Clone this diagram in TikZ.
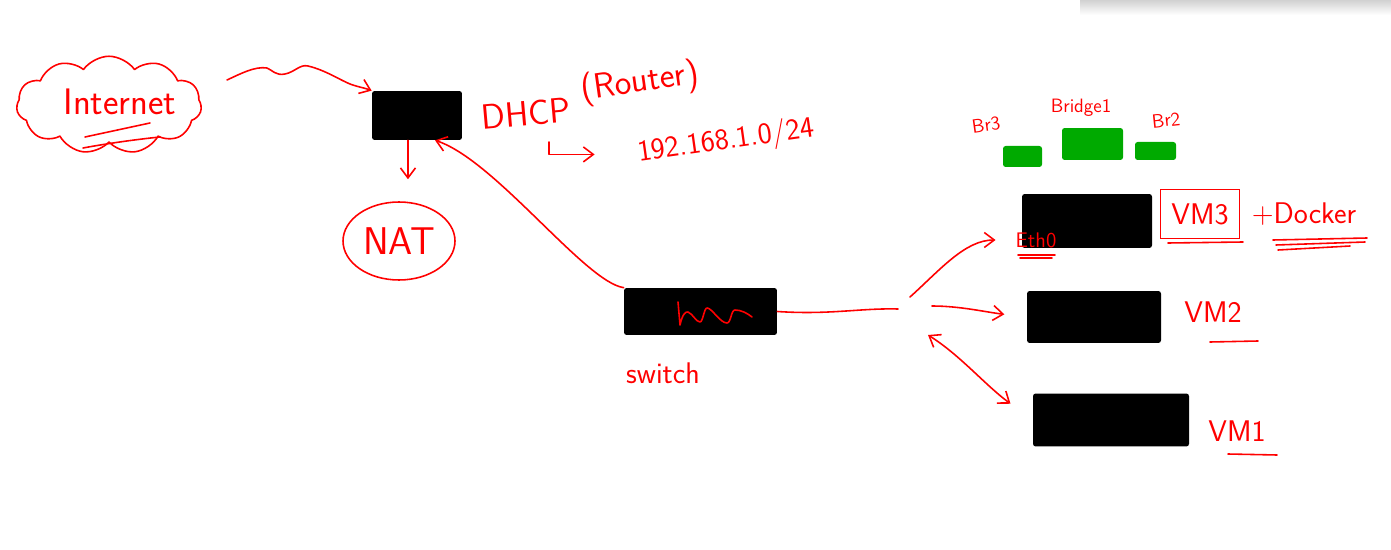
\documentclass[tikz,border=0pt]{standalone}
\usepackage{amsmath}
\usetikzlibrary{arrows.meta,positioning,shapes.geometric,shapes.symbols,calc}
\definecolor{crojo}{HTML}{FF0000}
\definecolor{cverde}{HTML}{00AA00}
\tikzset{
  caja/.style={fill=black,rounded corners=1.5pt,inner sep=0pt},
  puente/.style={fill=cverde,rounded corners=1.5pt,inner sep=0pt},
  trazo/.style={draw=crojo,line width=0.9pt,line cap=round,line join=round},
  flecha/.style={trazo,-{Straight Barb[length=2mm,width=3mm]}},
  doble/.style={trazo,{Straight Barb[length=2mm,width=3mm]}-{Straight Barb[length=2mm,width=3mm]}},
  et/.style={text=crojo,font=\sffamily\fontsize{17}{20}\selectfont,inner sep=1pt},
  etg/.style={et,font=\sffamily\fontsize{22}{24}\selectfont},
  etp/.style={et,font=\sffamily\fontsize{11}{12}\selectfont},
}

\begin{document}
\begin{tikzpicture}[x=0.02cm,y=-0.02cm]
\useasboundingbox (0,0) rectangle (1391,550);
\shade[top color=black!18,bottom color=white] (1080,0) rectangle (1391,15);

% internet y router
\node[cloud,trazo,cloud puffs=11,cloud puff arc=110,aspect=1.9,
      minimum width=3.7cm,minimum height=1.95cm] (inet) at (109,105) {};
\node[etg,font=\sffamily\fontsize{21}{24}\selectfont] (inett) at (120,102) {Internet};
\draw[trazo] (85,137) -- (150,123);
\draw[trazo] (83,148) .. controls (110,143) and (140,139) .. (160,137);

\node[caja,minimum width=1.8cm,minimum height=0.98cm] (router) at (417,115.5) {};
\coordinate (w0) at (227,80);
\draw[flecha] (w0) .. controls (240,74) and (255,66) .. (267,68)
   .. controls (272,70) and (276,76) .. (285,74)
   .. controls (295,72) and (300,64) .. (308,66)
   .. controls (325,70) and (340,80) .. (350,84)
   .. controls (358,87) and (365,88) .. (router.north west);

\node[ellipse,trazo,minimum width=2.24cm,minimum height=1.56cm] (nat) at (399,241) {};
\node[etg] (natt) at (nat.center) {NAT};
\draw[flecha,shorten >=0.44cm] (router.250) -- (router.250 |- nat.north);

\node[et,rotate=5,inner sep=0pt,font=\sffamily\fontsize{20}{22}\selectfont] (dhcp) at (526,114) {DHCP};
\node[et,rotate=8,inner sep=0pt,font=\sffamily\fontsize{20}{22}\selectfont] (dhcpr) at (640,83) {(Router)};
\node[et,rotate=8,inner sep=0pt] (ip) at (726,142) {192.168.1.0/24};
\coordinate (hk) at (549,142);
\draw[flecha,shorten >=0.86cm] (hk) |- (ip.west);

% switch
\node[caja,minimum width=3.06cm,minimum height=0.94cm] (switch) at (700.5,311.5) {};
\node[et] (switcht) at (663,373) {switch};
\draw[trazo] (678,302) -- (680,325) .. controls (682,316) and (685,311) .. (688,312)
   .. controls (693,314) and (696,322) .. (700,322)
   .. controls (703,322) and (704,308) .. (707,308)
   .. controls (712,308) and (720,323) .. (727,323)
   .. controls (731,323) and (731,310) .. (735,310)
   .. controls (741,310) and (747,313) .. (752,317);
\draw[flecha] (switch.north west) .. controls (585,282) and (495,160) .. (router.-54);

% puentes
\node[puente,minimum width=0.78cm,minimum height=0.42cm] (br3) at (1022.5,156.5) {};
\node[puente,minimum width=1.22cm,minimum height=0.64cm] (bridge1) at (1092.5,144) {};
\node[puente,minimum width=0.82cm,minimum height=0.36cm] (br2) at (1155.5,151) {};
\node[etp,rotate=8] (br3t) at (986,125) {Br3};
\node[etp] (bridge1t) at (1081,108) {Bridge1};
\node[etp,rotate=6] (br2t) at (1166,120) {Br2};

% maquinas virtuales
\node[caja,minimum width=2.6cm,minimum height=1.08cm] (vm3) at (1087,221) {};
\node[caja,minimum width=2.68cm,minimum height=1.04cm] (vm2) at (1094,317) {};
\node[caja,minimum width=3.12cm,minimum height=1.06cm] (vm1) at (1111,420) {};

\node[etp,font=\sffamily\fontsize{12}{13}\selectfont] (eth0) at (1036,240) {Eth0};
\draw[trazo] (1018,255) -- (1055,255);
\draw[trazo] (1020,258) -- (1052,258);
\node[et,draw=crojo,line width=0.9pt,minimum width=1.58cm,minimum height=0.98cm] (vm3t) at (1200,214) {VM3};
\draw[trazo] (1168,243) -- (1243,242);
\node[et] (docker) at (1304,214) {+Docker};
\draw[trazo] (1273,240) -- (1367,238);
\draw[trazo] (1276,245) -- (1365,242);
\draw[trazo] (1278,250) -- (1350,246);
\node[et] (vm2t) at (1213,312) {VM2};
\draw[trazo] (1210,342) -- (1258,341);
\node[et] (vm1t) at (1237,431) {VM1};
\draw[trazo] (1228,454) -- (1277,455);

% enlaces del switch
\coordinate (hs) at (898,309);
\coordinate (h1) at (910,297);
\coordinate (h2) at (932,306);
\coordinate (h3) at (928,335);
\draw[trazo] (switch.east) .. controls (830,315) and (860,308) .. (hs);
\draw[flecha,shorten >=0.36cm] (h1) .. controls (940,270) and (965,240) .. (eth0.west);
\draw[flecha,shorten >=0.45cm] (h2) .. controls (960,306) and (985,312) .. (vm2.west);
\draw[doble,shorten >=0.55cm] (h3) .. controls (960,355) and (985,385) .. (vm1.west);

\end{tikzpicture}
\end{document}
